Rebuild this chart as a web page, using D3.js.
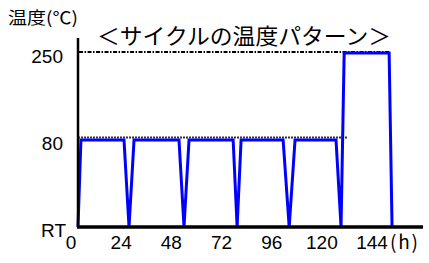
<!DOCTYPE html>
<html>
<head>
<meta charset="utf-8">
<script src="https://cdn.jsdelivr.net/npm/d3@7"></script>
<style>
  html, body { margin: 0; padding: 0; background: #fff; }
  svg { display: block; }
</style>
</head>
<body>
<div id="chart"></div>
<script>
// temperature levels (y categories), bottom to top
const levels = ['RT', '80', '250'];
// cycle pattern: time in hours, level
const times = [0, 1.4, 22.0, 24.4, 26.8, 48.3, 50.7, 53.1, 74.2, 76.1, 78.0,
  98.1, 101.0, 103.8, 123.4, 125.8, 127.3, 148.8, 150.2];
const temps = ['RT', '80', '80', 'RT', '80', '80', 'RT', '80', '80', 'RT', '80',
  '80', 'RT', '80', '80', 'RT', '250', '250', 'RT'];
// dashed reference lines: level, start hour, end hour
const refLevels = ['250', '80'];
const refStart = [0.5, 0];
const refEnd = [149.3, 128.7];
const xTicks = [0, 24, 48, 72, 96, 120, 144];

const W = 429, H = 263;
const svg = d3.select('#chart').append('svg').attr('width', W).attr('height', H);

const x = d3.scaleLinear().domain([0, 165]).range([78, 423]);
const y = d3.scalePoint().domain(levels).range([227, 53]);

const numFont = '"Liberation Sans", Arial, sans-serif';
const jpFont = '"Noto Sans CJK JP", sans-serif';

// reference lines
const refs = refLevels.map((l, i) => ({ l, a: refStart[i], b: refEnd[i] }));
svg.append('g').selectAll('line').data(refs).enter().append('line')
  .attr('x1', d => x(d.a)).attr('x2', d => x(d.b))
  .attr('y1', d => y(d.l) - (d.l === '80' ? 2.5 : 1))
  .attr('y2', d => y(d.l) - (d.l === '80' ? 2.5 : 1))
  .attr('stroke', d => d.l === '80' ? '#333' : '#000').attr('stroke-width', 2)
  .attr('stroke-dasharray', d => d.l === '80' ? '2,1' : '4,1.5,1.5,1.5');

// series
const pts = times.map((t, i) => [t, temps[i]]);
svg.append('path').datum(pts)
  .attr('fill', 'none').attr('stroke', '#0000ff').attr('stroke-width', 3)
  .attr('stroke-linejoin', 'miter')
  .attr('d', d3.line().x(d => x(d[0])).y(d => y(d[1])));

// axes
svg.append('line').attr('x1', x(0)).attr('x2', x(0)).attr('y1', 38).attr('y2', y('RT'))
  .attr('stroke', '#000').attr('stroke-width', 2.5);
svg.append('line').attr('x1', x(0) - 1).attr('x2', x(165)).attr('y1', y('RT')).attr('y2', y('RT'))
  .attr('stroke', '#000').attr('stroke-width', 3.5);

// y labels
svg.append('g').selectAll('text').data(levels).enter().append('text')
  .attr('x', d => d === 'RT' ? 66 : 63).attr('y', d => y(d) + 10)
  .attr('text-anchor', 'end').attr('font-family', numFont).attr('font-size', 19)
  .attr('fill', '#000').text(d => d);

// x labels
svg.append('g').selectAll('text').data(xTicks).enter().append('text')
  .attr('x', d => x(d) - 7).attr('y', 249)
  .attr('text-anchor', 'middle').attr('font-family', numFont).attr('font-size', 19)
  .attr('fill', '#000').text(d => d);

svg.append('text').attr('x', 390).attr('y', 249).attr('font-family', jpFont)
  .attr('font-size', 19).attr('textLength', 28).attr('lengthAdjust', 'spacing').text('(h)');

svg.append('text').attr('x', 8).attr('y', 24).attr('font-family', jpFont)
  .attr('font-size', 17).attr('textLength', 70).attr('lengthAdjust', 'spacingAndGlyphs').text('温度(℃)');

svg.append('text').attr('x', 97).attr('y', 44).attr('font-family', jpFont)
  .attr('font-size', 22).attr('textLength', 294).attr('lengthAdjust', 'spacingAndGlyphs')
  .text('＜サイクルの温度パターン＞');
</script>
</body>
</html>
